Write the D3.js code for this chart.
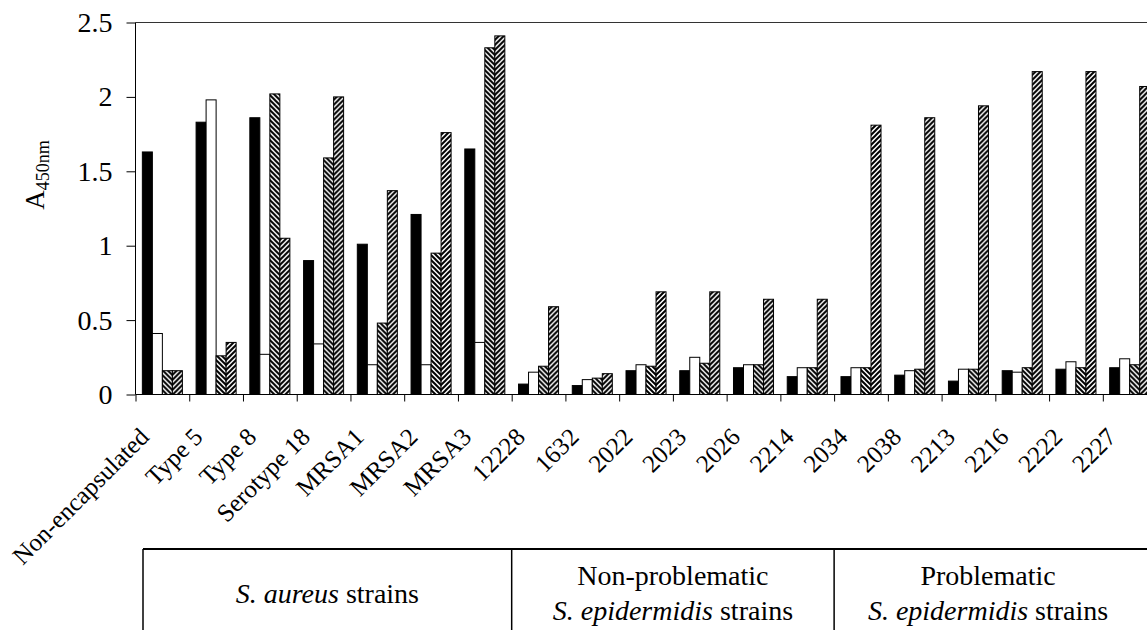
<!DOCTYPE html>
<html>
<head>
<meta charset="utf-8">
<script src="https://cdn.jsdelivr.net/npm/d3@7"></script>
<style>
  body { margin: 0; background: #fff; }
  svg { display: block; font-family: "Liberation Serif", "Times New Roman", serif; }
  .axis path, .axis line { stroke: #000; }
  .axis text { font-family: "Liberation Serif", "Times New Roman", serif; fill: #000; }
</style>
</head>
<body>
<div id="chart"></div>
<script>
const w = 1147;
const h = 630;

// strains and the four measured series
const strains = ['Non-encapsulated', 'Type 5', 'Type 8', 'Serotype 18', 'MRSA1', 'MRSA2', 'MRSA3',
                 '12228', '1632', '2022', '2023', '2026', '2214',
                 '2034', '2038', '2213', '2216', '2222', '2227'];
const seriesNames = ['black', 'white', 'down', 'up'];
const blackVals = [1.63, 1.83, 1.86, 0.90, 1.01, 1.21, 1.65, 0.07, 0.06, 0.16, 0.16, 0.18, 0.12, 0.12, 0.13, 0.09, 0.16, 0.17, 0.18];
const whiteVals = [0.41, 1.98, 0.27, 0.34, 0.20, 0.20, 0.35, 0.15, 0.10, 0.20, 0.25, 0.20, 0.18, 0.18, 0.16, 0.17, 0.15, 0.22, 0.24];
const downVals  = [0.16, 0.26, 2.02, 1.59, 0.48, 0.95, 2.33, 0.19, 0.11, 0.19, 0.21, 0.20, 0.18, 0.18, 0.17, 0.17, 0.18, 0.18, 0.20];
const upVals    = [0.16, 0.35, 1.05, 2.00, 1.37, 1.76, 2.41, 0.59, 0.14, 0.69, 0.69, 0.64, 0.64, 1.81, 1.86, 1.94, 2.17, 2.17, 2.07];
const yTicks = [0, 0.5, 1, 1.5, 2, 2.5];

// groups in the table under the chart
const groupSpans = [7, 6, 6];
const groupLines = [
  [[['S.', true], [' ', false], ['aureus', true], [' strains', false]]],
  [[['Non-problematic', false]], [['S. epidermidis', true], [' strains', false]]],
  [[['Problematic', false]], [['S. epidermidis', true], [' strains', false]]]
];

const values = [blackVals, whiteVals, downVals, upVals];
const rows = strains.map((s, i) => ({ strain: s, vals: values.map((v, k) => ({ key: seriesNames[k], v: v[i] })) }));

const left = 135.5;
const step = 53.74;
const right = left + step * strains.length;

const x0 = d3.scaleBand().domain(strains).range([left, right]).paddingInner(0.255).paddingOuter(0.1275);
const x1 = d3.scaleBand().domain(seriesNames).range([0, x0.bandwidth()]);
const xIdx = d3.scaleLinear().domain([0, strains.length]).range([left, right]);
const y = d3.scaleLinear().domain([0, 2.5]).range([394.5, 22.5]);

const svg = d3.select('#chart').append('svg').attr('width', w).attr('height', h);

const defs = svg.append('defs');
defs.append('pattern').attr('id', 'down').attr('patternUnits', 'userSpaceOnUse')
  .attr('width', 5).attr('height', 5)
  .call(p => {
    p.append('rect').attr('width', 5).attr('height', 5).attr('fill', '#fff');
    p.append('path').attr('d', 'M-1,-1 L6,6 M-1,4 L1,6 M4,-1 L6,1').attr('stroke', '#000').attr('stroke-width', 2);
  });
defs.append('pattern').attr('id', 'up').attr('patternUnits', 'userSpaceOnUse')
  .attr('width', 5).attr('height', 5)
  .call(p => {
    p.append('rect').attr('width', 5).attr('height', 5).attr('fill', '#fff');
    p.append('path').attr('d', 'M-1,6 L6,-1 M-1,1 L1,-1 M4,6 L6,4').attr('stroke', '#000').attr('stroke-width', 2);
  });

const fills = { black: '#000', white: '#fff', down: 'url(#down)', up: 'url(#up)' };

// top border of plot area
svg.append('line')
  .attr('x1', left).attr('x2', w + 10)
  .attr('y1', y(2.5)).attr('y2', y(2.5))
  .attr('stroke', '#333').attr('stroke-width', 1.2);

// bars
svg.append('g').selectAll('g')
  .data(rows)
  .enter().append('g')
  .attr('transform', d => `translate(${x0(d.strain)},0)`)
  .selectAll('rect')
  .data(d => d.vals)
  .enter().append('rect')
  .attr('x', d => x1(d.key))
  .attr('width', x1.bandwidth())
  .attr('y', d => y(d.v))
  .attr('height', d => y(0) - y(d.v))
  .attr('fill', d => fills[d.key])
  .attr('stroke', '#000')
  .attr('stroke-width', 1);

// axes
const yAxis = d3.axisLeft(y).tickValues(yTicks).tickFormat(d3.format('')).tickSize(9).tickPadding(14);
svg.append('g').attr('class', 'axis')
  .attr('transform', `translate(${left},0)`)
  .call(yAxis)
  .call(g => g.select('.domain').attr('d', `M0,${y(2.5)}V${y(0)}`))
  .selectAll('text').attr('font-size', 28);

const xAxis = d3.axisBottom(xIdx).tickValues(d3.range(0, strains.length)).tickFormat('').tickSize(7).tickSizeOuter(0);
svg.append('g').attr('class', 'axis')
  .attr('transform', `translate(0,${y(0)})`)
  .call(xAxis)
  .call(g => g.select('.domain').attr('d', `M${left},0H${w + 10}`));

// category labels
svg.append('g').selectAll('text')
  .data(strains)
  .enter().append('text')
  .attr('text-anchor', 'end')
  .attr('font-size', 25)
  .attr('transform', d => `translate(${x0(d) + x0.bandwidth() / 2 - 12},${y(0) + 44}) rotate(-45)`)
  .text(d => d);

// y label
const yl = svg.append('text')
  .attr('transform', 'translate(44,175) rotate(-90)')
  .attr('text-anchor', 'middle')
  .attr('font-size', 27);
yl.append('tspan').text('A');
yl.append('tspan').attr('font-size', 18).attr('dy', 5).text('450nm');

// group table
const tableTop = 549;
const tableLeft = 143;
const edges = [tableLeft];
let acc = 0;
groupSpans.forEach(s => { acc += s; edges.push(xIdx(acc)); });
edges[edges.length - 1] = 1142;

svg.append('line').attr('x1', tableLeft).attr('x2', w + 10)
  .attr('y1', tableTop).attr('y2', tableTop).attr('stroke', '#000').attr('stroke-width', 2);
svg.append('g').selectAll('line')
  .data(edges.slice(0, -1))
  .enter().append('line')
  .attr('x1', d => d).attr('x2', d => d)
  .attr('y1', tableTop).attr('y2', h + 5)
  .attr('stroke', '#000').attr('stroke-width', 1.5);

groupLines.forEach((lines, gi) => {
  const cx = (edges[gi] + edges[gi + 1]) / 2;
  const baseY = lines.length === 1 ? [603] : [585, 620];
  lines.forEach((parts, li) => {
    const t = svg.append('text')
      .attr('x', cx).attr('y', baseY[li])
      .attr('text-anchor', 'middle')
      .attr('font-size', 28);
    parts.forEach(p => t.append('tspan').attr('font-style', p[1] ? 'italic' : 'normal').text(p[0]));
  });
});
</script>
</body>
</html>
